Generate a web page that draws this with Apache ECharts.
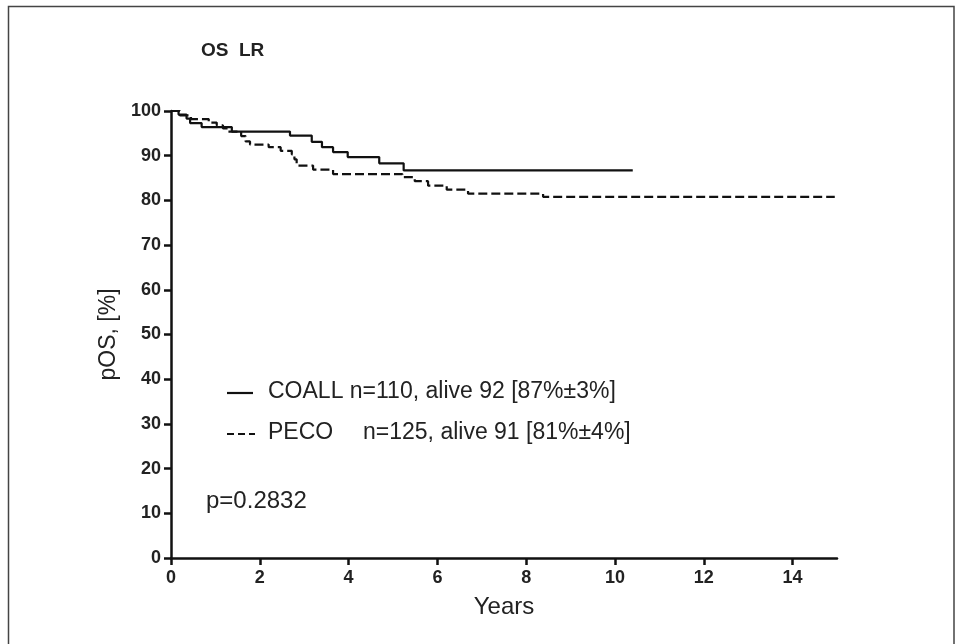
<!DOCTYPE html>
<html>
<head>
<meta charset="utf-8">
<script src="https://cdn.jsdelivr.net/npm/echarts@6/dist/echarts.min.js"></script>
<style>
html,body{margin:0;padding:0;background:#fff;}
#c{width:959px;height:644px;}
</style>
</head>
<body>
<div id="c"></div>
<script>
// ---- data ----
var titleText = 'OS  LR';
var xTicks = [0, 2, 4, 6, 8, 10, 12, 14];
var yTicks = [0, 10, 20, 30, 40, 50, 60, 70, 80, 90, 100];
var coallYears = [0, 0.17, 0.35, 0.43, 0.69, 1.37, 2.68, 3.17, 3.40, 3.65, 3.98, 4.69, 5.24, 10.4];
var coallSurv  = [100, 99.2, 98.3, 97.3, 96.4, 95.4, 94.5, 93.1, 91.9, 90.8, 89.7, 88.3, 86.7, 86.7];
var pecoYears = [0, 0.2, 0.45, 0.85, 1.03, 1.17, 1.29, 1.58, 1.68, 1.78, 2.2, 2.47, 2.72, 2.78, 2.83, 3.2, 3.65, 5.21, 5.49, 5.79, 6.21, 6.69, 8.38, 14.95];
var pecoSurv  = [100, 99.0, 98.2, 97.4, 96.8, 96.1, 95.4, 94.4, 93.2, 92.5, 91.9, 91.1, 90.3, 89.2, 87.8, 86.9, 85.9, 85.2, 84.3, 83.3, 82.4, 81.5, 80.8, 80.8];
var legendCoall = 'COALL n=110, alive 92 [87%\u00b13%]';
var legendPecoName = 'PECO';
var legendPecoRest = 'n=125, alive 91 [81%\u00b14%]';
var pText = 'p=0.2832';

function zip(xs, ys){ return xs.map(function(x,i){ return [x, ys[i]]; }); }

var FONT = "'Liberation Sans', Arial, sans-serif";
var chart = echarts.init(document.getElementById('c'), null, {renderer:'canvas'});
var option = {
  animation: false,
  backgroundColor: '#fff',
  grid: {left: 171, right: 122, top: 111, bottom: 86, containLabel: false},
  xAxis: {
    type: 'value', min: 0, max: 15, interval: 2,
    name: 'Years', nameLocation: 'middle', nameGap: 37,
    nameTextStyle: {fontFamily: FONT, fontSize: 24, color: '#222'},
    axisLine: {show: true, onZero: false, lineStyle: {color: '#111', width: 2.5}},
    axisTick: {show: true, length: 7, lineStyle: {color: '#111', width: 2.5}, customValues: xTicks},
    axisLabel: {fontFamily: FONT, fontSize: 18, fontWeight: 'bold', color: '#222', margin: 11, customValues: xTicks},
    splitLine: {show: false}
  },
  yAxis: {
    type: 'value', min: 0, max: 100, interval: 10,
    name: 'pOS, [%]', nameLocation: 'middle', nameGap: 49, nameRotate: 90,
    nameTextStyle: {fontFamily: FONT, fontSize: 23, color: '#222'},
    axisLine: {show: true, lineStyle: {color: '#111', width: 2.5}},
    axisTick: {show: true, length: 7, lineStyle: {color: '#111', width: 2.5}, customValues: yTicks},
    axisLabel: {fontFamily: FONT, fontSize: 18, fontWeight: 'bold', color: '#222', margin: 10, customValues: yTicks},
    splitLine: {show: false}
  },
  series: [
    {
      name: 'COALL', type: 'line', step: 'end', showSymbol: false, symbol: 'none',
      data: zip(coallYears, coallSurv),
      lineStyle: {color: '#111', width: 2.2, type: 'solid'}
    },
    {
      name: 'PECO', type: 'line', step: 'end', showSymbol: false, symbol: 'none',
      data: zip(pecoYears, pecoSurv),
      lineStyle: {color: '#111', width: 2.2, type: [9, 4]}
    }
  ],
  graphic: [
    {type: 'rect', shape: {x: 8.5, y: 6.5, width: 945.5, height: 645}, style: {fill: 'none', stroke: '#444', lineWidth: 1.5}, silent: true},
    {type: 'text', left: 201, top: 41, style: {text: titleText, fontFamily: FONT, fontSize: 19, fontWeight: 'bold', fill: '#222'}},
    {type: 'line', shape: {x1: 227, y1: 393, x2: 253, y2: 393}, style: {stroke: '#111', lineWidth: 2.2}},
    {type: 'line', shape: {x1: 227, y1: 434, x2: 255, y2: 434}, style: {stroke: '#111', lineWidth: 2.2, lineDash: [7, 4]}},
    {type: 'text', x: 268, y: 392, style: {text: legendCoall, fontFamily: FONT, fontSize: 23, fill: '#222', verticalAlign: 'middle', align: 'left'}},
    {type: 'text', x: 268, y: 433, style: {text: legendPecoName, fontFamily: FONT, fontSize: 23, fill: '#222', verticalAlign: 'middle', align: 'left'}},
    {type: 'text', x: 363, y: 433, style: {text: legendPecoRest, fontFamily: FONT, fontSize: 23, fill: '#222', verticalAlign: 'middle', align: 'left'}},
    {type: 'text', x: 206, y: 501, style: {text: pText, fontFamily: FONT, fontSize: 24, fill: '#222', verticalAlign: 'middle', align: 'left'}}
  ]
};
chart.setOption(option);
</script>
</body>
</html>
